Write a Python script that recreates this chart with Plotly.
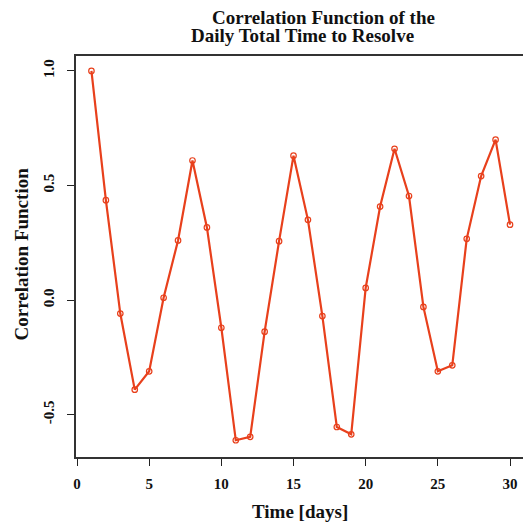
import plotly.graph_objects as go

lag_days = list(range(1, 31))
correlation = [1.0, 0.436, -0.059, -0.391, -0.311, 0.01, 0.26, 0.609, 0.317, -0.121,
               -0.612, -0.597, -0.138, 0.257, 0.63, 0.35, -0.07, -0.554, -0.586, 0.053,
               0.408, 0.66, 0.454, -0.03, -0.311, -0.285, 0.267, 0.541, 0.70, 0.329]
x_ticks = [0, 5, 10, 15, 20, 25, 30]
y_ticks = [-0.5, 0.0, 0.5, 1.0]
y_ticklabels = ["-0.5", "0.0", "0.5", "1.0"]

RED = "#e8401c"
SERIF = "Liberation Serif"

fig = go.Figure()
fig.add_trace(go.Scatter(
    x=lag_days, y=correlation, mode="lines+markers",
    line=dict(color=RED, width=2.2),
    marker=dict(symbol="circle-open", size=5.5, color=RED, line=dict(width=1.2, color=RED)),
    showlegend=False,
))

axis_font = dict(family=SERIF, size=15, color="#111111", weight="bold")
fig.update_layout(
    width=523, height=525,
    margin=dict(l=76, r=0, t=56, b=68),
    paper_bgcolor="white", plot_bgcolor="white",
    xaxis=dict(range=[-0.07, 30.9], tickvals=x_ticks, ticks="outside", ticklen=7,
               tickwidth=1.3, tickcolor="#222", showline=True, linecolor="#333",
               linewidth=1.5, mirror=True, showgrid=False, zeroline=False,
               tickfont=axis_font, ticklabelstandoff=5),
    yaxis=dict(range=[-0.685, 1.065], tickvals=y_ticks, ticktext=y_ticklabels,
               ticks="outside", ticklen=7, tickwidth=1.3, tickcolor="#222",
               showline=True, linecolor="#333", linewidth=1.5, mirror=False,
               showgrid=False, zeroline=False, tickangle=-90, tickfont=axis_font,
               ticklabelstandoff=7),
)

title_font = dict(family=SERIF, size=19, color="#111111", weight="bold")
fig.add_annotation(text="Correlation Function of the", xref="paper", yref="paper",
                   x=(323.5 - 76) / 447, y=(457 - 18) / 401, showarrow=False,
                   font=title_font, xanchor="center", yanchor="middle")
fig.add_annotation(text="Daily Total Time to Resolve", xref="paper", yref="paper",
                   x=(302 - 76) / 447, y=(457 - 35) / 401, showarrow=False,
                   font=title_font, xanchor="center", yanchor="middle")
fig.add_annotation(text="Correlation Function", xref="paper", yref="paper",
                   x=(20.5 - 76) / 447, y=(457 - 254) / 401, showarrow=False,
                   textangle=-90,
                   font=dict(family=SERIF, size=19, color="#111111", weight="bold"),
                   xanchor="center", yanchor="middle")
fig.add_annotation(text="Time [days]", xref="paper", yref="paper",
                   x=(300 - 76) / 447, y=(457 - 511) / 401, showarrow=False,
                   font=dict(family=SERIF, size=19, color="#111111", weight="bold"),
                   xanchor="center", yanchor="middle")

fig.write_html("out.html")
